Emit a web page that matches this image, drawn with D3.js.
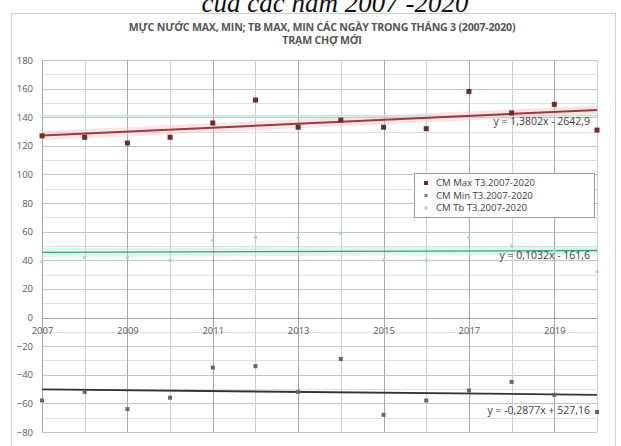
<!DOCTYPE html>
<html>
<head>
	<meta charset="utf-8">
	<script src="https://d3js.org/d3.v7.min.js"></script>
	<style>
		body { margin: 0; background: #fff; }
		svg { display: block; }
		text { font-family: "Open Sans", "Liberation Sans", sans-serif; }
	</style>
</head>
<body>
	<svg width="621" height="446"></svg>

<script type="text/javascript">
	const years = [2007, 2008, 2009, 2010, 2011, 2012, 2013, 2014, 2015, 2016, 2017, 2018, 2019, 2020];
	const maxValues = [127, 126, 122, 126, 136, 152, 133, 138, 133, 132, 158, 143, 149, 131];
	const minValues = [-58, -52, -64, -56, -35, -34, -52, -29, -68, -58, -51, -45, -54, -66];
	const tbValues = [39, 42, 42, 40, 54, 56, 56, 59, 40, 40, 56, 50, 47, 32];
	const yTicks = [-80, -60, -40, -20, 0, 20, 40, 60, 80, 100, 120, 140, 160, 180];
	const xTicks = [2007, 2009, 2011, 2013, 2015, 2017, 2019];
	const seriesNames = ["CM Max T3.2007-2020", "CM Min T3.2007-2020", "CM Tb T3.2007-2020"];
	// trend line coefficients (slope, intercept) as printed on the chart
	const maxTrend = [1.3802, -2642.9];
	const minTrend = [-0.2877, 527.16];
	const tbTrend = [0.1032, -161.6];
	const trendLabels = ["y = 1,3802x - 2642,9", "y = 0,1032x - 161,6", "y = -0,2877x + 527,16"];
	const faintLevel = [141];

	const svg = d3.select("svg");

	// cut-off caption from the page above the chart
	svg.append("text")
		.attr("x", 335).attr("y", 12)
		.attr("text-anchor", "middle")
		.style("font-family", "'Liberation Serif', serif")
		.style("font-style", "italic")
		.style("font-size", "27px")
		.attr("fill", "#111")
		.text("của các năm 2007 -2020");

	// chart frame
	svg.append("rect")
		.attr("x", 11.5).attr("y", 13.5)
		.attr("width", 604).attr("height", 440)
		.attr("fill", "#fff").attr("stroke", "#d0d0d0");

	svg.append("text")
		.attr("x", 322).attr("y", 31)
		.attr("text-anchor", "middle")
		.style("font-size", "10.6px").style("font-weight", "bold")
		.style("letter-spacing", "-0.2px")
		.attr("fill", "#555")
		.text("MỰC NƯỚC MAX, MIN; TB MAX, MIN CÁC NGÀY TRONG THÁNG 3 (2007-2020)");
	svg.append("text")
		.attr("x", 322).attr("y", 44)
		.attr("text-anchor", "middle")
		.style("font-size", "10.6px").style("font-weight", "bold")
		.style("letter-spacing", "-0.2px")
		.attr("fill", "#555")
		.text("TRẠM CHỢ MỚI");

	const x = d3.scaleLinear().domain([2007, 2020]).range([42, 597]);
	const y = d3.scaleLinear().domain([-80, 180]).range([432, 60]);

	// horizontal grid every 10
	svg.append("g")
		.selectAll("line")
		.data(d3.range(-80, 181, 10))
		.join("line")
		.attr("x1", x(2007)).attr("x2", x(2020))
		.attr("y1", d => Math.round(y(d)) + 0.5).attr("y2", d => Math.round(y(d)) + 0.5)
		.attr("stroke", d => d % 20 === 0 ? "#c4c4c4" : "#e0e0e0");

	// vertical grid every year
	svg.append("g")
		.selectAll("line")
		.data(years)
		.join("line")
		.attr("x1", d => Math.round(x(d)) + 0.5).attr("x2", d => Math.round(x(d)) + 0.5)
		.attr("y1", y(180)).attr("y2", y(-80))
		.attr("stroke", d => d % 2 === 1 ? "#a8a8a8" : "#cfcfcf");

	// zero line
	svg.append("line")
		.attr("x1", x(2007)).attr("x2", x(2020))
		.attr("y1", Math.round(y(0)) + 0.5).attr("y2", Math.round(y(0)) + 0.5)
		.attr("stroke", "#a8a8a8");

	// y axis labels
	const yAxis = d3.axisLeft(y).tickValues(yTicks).tickSize(0).tickPadding(9);
	const gy = svg.append("g").attr("transform", "translate(" + x(2007) + ",0)").call(yAxis);
	gy.select(".domain").remove();
	gy.selectAll("text").style("font-size", "9.5px").attr("fill", "#595959")
		.style("font-family", "'Open Sans', sans-serif");

	// x axis labels under the zero line
	const xAxis = d3.axisBottom(x).tickValues(xTicks).tickFormat(d3.format("d")).tickSize(0).tickPadding(10);
	const gx = svg.append("g").attr("transform", "translate(0," + y(0) + ")").call(xAxis);
	gx.select(".domain").remove();
	gx.selectAll("text").style("font-size", "9.5px").attr("fill", "#595959")
		.style("font-family", "'Open Sans', sans-serif");

	// faint teal level line
	svg.append("g").selectAll("line").data(faintLevel).join("line")
		.attr("x1", x(2007)).attr("x2", x(2020))
		.attr("y1", d => y(d)).attr("y2", d => y(d))
		.attr("stroke", "#bfe8dc").attr("stroke-width", 1.5);

	function trendLine(coef, halo, color, width) {
		const pts = [2007, 2020].map(t => [x(t), y(coef[0] * t + coef[1])]);
		if (halo) {
			svg.append("path").attr("d", d3.line()(pts))
				.attr("stroke", halo).attr("stroke-width", 9).attr("fill", "none").attr("opacity", 0.45);
		}
		svg.append("path").attr("d", d3.line()(pts))
			.attr("stroke", color).attr("stroke-width", width).attr("fill", "none");
	}

	trendLine(maxTrend, "#f4c6c6", "#9a3a3e", 2);
	trendLine(tbTrend, "#b8ecd9", "#3f9b86", 1.3);
	trendLine(minTrend, null, "#333", 1.8);

	// markers
	svg.append("g").selectAll("rect").data(years).join("rect")
		.attr("x", (d, i) => x(d) - 2.5).attr("y", (d, i) => y(maxValues[i]) - 2.5)
		.attr("width", 5).attr("height", 5)
		.attr("fill", "#6e2a33");

	svg.append("g").selectAll("rect").data(years).join("rect")
		.attr("x", (d, i) => x(d) - 2).attr("y", (d, i) => y(minValues[i]) - 2)
		.attr("width", 4).attr("height", 4)
		.attr("fill", "#666");

	svg.append("g").selectAll("rect").data(years).join("rect")
		.attr("x", (d, i) => x(d) - 1.5).attr("y", (d, i) => y(tbValues[i]) - 1.5)
		.attr("width", 3).attr("height", 3)
		.attr("fill", "#9fd9c8");

	// trend equations
	const eqPos = [[590, 125], [590, 259], [590, 414]];
	svg.append("g").selectAll("text").data(trendLabels).join("text")
		.attr("x", (d, i) => eqPos[i][0]).attr("y", (d, i) => eqPos[i][1])
		.attr("text-anchor", "end")
		.style("font-size", "10.5px")
		.attr("fill", "#404040")
		.text(d => d);

	// legend
	const legend = svg.append("g").attr("transform", "translate(414,173)");
	legend.append("rect").attr("x", 0.5).attr("y", 0.5).attr("width", 180).attr("height", 44)
		.attr("fill", "#fff").attr("stroke", "#9a9a9a");
	const legendColors = ["#6e2a33", "#777", "#9fd9c8"];
	const legendSizes = [4, 3, 3];
	seriesNames.forEach((name, i) => {
		const ly = 10 + i * 12.5;
		legend.append("rect")
			.attr("x", 12 - legendSizes[i] / 2).attr("y", ly - legendSizes[i] / 2)
			.attr("width", legendSizes[i]).attr("height", legendSizes[i])
			.attr("fill", legendColors[i]);
		legend.append("text").attr("x", 22).attr("y", ly + 3.3)
			.style("font-size", "9.6px").attr("fill", "#404040")
			.text(name);
	});
</script>
</body>
</html>
